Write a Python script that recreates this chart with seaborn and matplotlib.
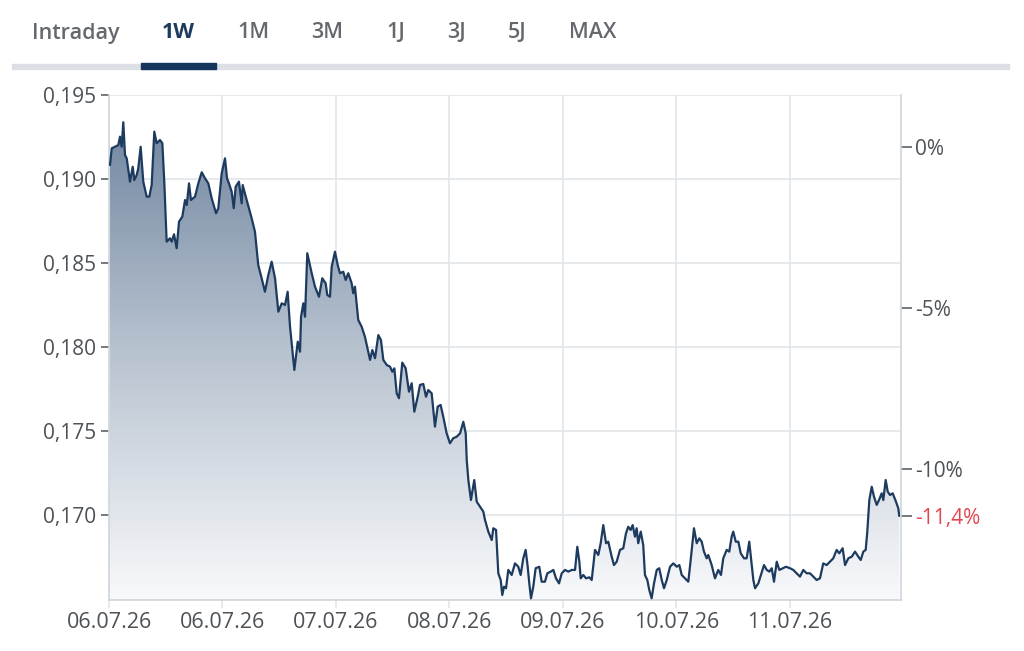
import numpy as np
import matplotlib
matplotlib.use("Agg")
import matplotlib.pyplot as plt
import seaborn as sns
from matplotlib.colors import LinearSegmentedColormap
from matplotlib.patches import Rectangle
from matplotlib.ticker import FuncFormatter, FixedLocator

# --- Daten (Zeit in Handelstagen ab Start, Kurs in EUR) ---
times = [0.009, 0.024, 0.053, 0.082, 0.097, 0.112, 0.126, 0.141, 0.156, 0.185,
         0.209, 0.223, 0.244, 0.258, 0.279, 0.302, 0.332, 0.355, 0.376, 0.399,
         0.420, 0.449, 0.470, 0.487, 0.508, 0.537, 0.552, 0.573, 0.596, 0.617,
         0.646, 0.670, 0.685, 0.705, 0.722, 0.758, 0.787, 0.817, 0.846, 0.875,
         0.905, 0.943, 0.963, 0.993, 1.022, 1.040, 1.057, 1.081, 1.099, 1.116,
         1.145, 1.169, 1.178, 1.213, 1.257, 1.286, 1.315, 1.345, 1.374, 1.404,
         1.433, 1.463, 1.492, 1.522, 1.551, 1.574, 1.595, 1.633, 1.663, 1.683,
         1.692, 1.712, 1.727, 1.747, 1.786, 1.815, 1.850, 1.879, 1.909, 1.923,
         1.947, 1.962, 1.991, 2.015, 2.035, 2.064, 2.085, 2.108, 2.138, 2.152,
         2.167, 2.196, 2.226, 2.255, 2.300, 2.320, 2.344, 2.373, 2.396, 2.417,
         2.447, 2.476, 2.496, 2.514, 2.535, 2.555, 2.584, 2.614, 2.643, 2.667,
         2.690, 2.720, 2.740, 2.769, 2.793, 2.813, 2.843, 2.872, 2.896, 2.922,
         2.945, 2.975, 3.004, 3.033, 3.063, 3.093, 3.122, 3.143, 3.152, 3.166,
         3.189, 3.218, 3.240, 3.269, 3.298,
         3.313, 3.342, 3.372, 3.386, 3.410, 3.430, 3.451, 3.465, 3.480, 3.498,
         3.518, 3.548, 3.577, 3.606, 3.627, 3.650, 3.671, 3.689, 3.703, 3.718,
         3.738, 3.759, 3.791, 3.812, 3.841, 3.862, 3.892, 3.915, 3.938, 3.965,
         3.989, 4.018, 4.047, 4.077, 4.106, 4.126, 4.144, 4.156, 4.179, 4.203,
         4.232, 4.253, 4.282, 4.311, 4.332, 4.355, 4.379, 4.399, 4.429, 4.449,
         4.473, 4.502, 4.531, 4.555, 4.575, 4.596, 4.614, 4.634, 4.649, 4.663,
         4.685, 4.707, 4.722, 4.743, 4.760, 4.781, 4.802, 4.826, 4.848, 4.870,
         4.890, 4.914, 4.943, 4.972, 5.002, 5.025, 5.046, 5.075, 5.104, 5.125,
         5.154, 5.178, 5.201, 5.222, 5.242, 5.266, 5.280, 5.310, 5.339, 5.368,
         5.392, 5.412, 5.442, 5.465, 5.486, 5.500, 5.522, 5.545, 5.566, 5.595,
         5.618, 5.641, 5.663, 5.677, 5.692, 5.721, 5.744, 5.771, 5.795, 5.818,
         5.839, 5.859, 5.883, 5.906, 5.936, 5.965, 6.000, 6.029, 6.059, 6.088,
         6.117, 6.147, 6.176, 6.205, 6.235, 6.264, 6.293, 6.323, 6.352, 6.381,
         6.411, 6.434, 6.464, 6.485, 6.514, 6.544, 6.573, 6.602, 6.623, 6.646,
         6.667, 6.681, 6.699, 6.720, 6.740, 6.764, 6.784, 6.808, 6.822, 6.843,
         6.861, 6.881, 6.905, 6.934, 6.954, 6.963]

prices = [0.19083, 0.19183, 0.19192, 0.19202, 0.19252, 0.19192, 0.19338, 0.19143, 0.19123, 0.18984,
          0.19073, 0.18994, 0.19024, 0.19064, 0.19192, 0.18984, 0.18895, 0.18895, 0.18964, 0.19282,
          0.19213, 0.19232, 0.19213, 0.18984, 0.18627, 0.18647, 0.18627, 0.18671, 0.18588, 0.18746,
          0.18776, 0.18875, 0.18845, 0.18974, 0.18875, 0.18895, 0.18974, 0.19040, 0.19004, 0.18974,
          0.18885, 0.18796, 0.18826, 0.19034, 0.19123, 0.19004, 0.18974, 0.18924, 0.18826, 0.18954,
          0.18984, 0.18855, 0.18964, 0.18875, 0.18766, 0.18686, 0.18488, 0.18409, 0.18329, 0.18429,
          0.18508, 0.18409, 0.18210, 0.18260, 0.18250, 0.18329, 0.18121, 0.17863, 0.18032, 0.17972,
          0.18180, 0.18260, 0.18180, 0.18558, 0.18439, 0.18359, 0.18299, 0.18409, 0.18379, 0.18310,
          0.18299, 0.18478, 0.18567, 0.18488, 0.18439, 0.18448, 0.18399, 0.18439, 0.18379, 0.18320,
          0.18359, 0.18161, 0.18121, 0.18061, 0.17923, 0.17982, 0.17933, 0.18071, 0.18042, 0.17923,
          0.17893, 0.17883, 0.17853, 0.17873, 0.17724, 0.17695, 0.17907, 0.17873, 0.17734, 0.17784,
          0.17615, 0.17704, 0.17774, 0.17780, 0.17704, 0.17744, 0.17724, 0.17526, 0.17645, 0.17655,
          0.17585, 0.17486, 0.17427, 0.17457, 0.17466, 0.17486, 0.17555, 0.17486, 0.17327, 0.17208,
          0.17089, 0.17208, 0.17079, 0.17049, 0.17020,
          0.16970, 0.16901, 0.16851, 0.16921, 0.16911, 0.16653, 0.16613, 0.16524, 0.16573, 0.16564,
          0.16673, 0.16643, 0.16712, 0.16692, 0.16643, 0.16742, 0.16792, 0.16692, 0.16593, 0.16504,
          0.16573, 0.16683, 0.16692, 0.16603, 0.16603, 0.16653, 0.16663, 0.16673, 0.16623, 0.16593,
          0.16653, 0.16673, 0.16663, 0.16673, 0.16673, 0.16811, 0.16722, 0.16623, 0.16643, 0.16623,
          0.16629, 0.16613, 0.16792, 0.16762, 0.16832, 0.16940, 0.16832, 0.16841, 0.16752, 0.16702,
          0.16722, 0.16792, 0.16802, 0.16891, 0.16930, 0.16911, 0.16940, 0.16871, 0.16921, 0.16832,
          0.16901, 0.16821, 0.16643, 0.16613, 0.16554, 0.16504, 0.16593, 0.16673, 0.16683, 0.16613,
          0.16564, 0.16613, 0.16692, 0.16712, 0.16692, 0.16702, 0.16643, 0.16623, 0.16603, 0.16732,
          0.16921, 0.16832, 0.16861, 0.16841, 0.16782, 0.16742, 0.16762, 0.16702, 0.16623, 0.16673,
          0.16643, 0.16742, 0.16792, 0.16782, 0.16871, 0.16901, 0.16841, 0.16841, 0.16772, 0.16742,
          0.16742, 0.16841, 0.16702, 0.16613, 0.16564, 0.16593, 0.16643, 0.16702, 0.16673, 0.16663,
          0.16683, 0.16603, 0.16722, 0.16673, 0.16683, 0.16692, 0.16683, 0.16673, 0.16653, 0.16633,
          0.16673, 0.16653, 0.16653, 0.16633, 0.16613, 0.16623, 0.16712, 0.16702, 0.16722, 0.16742,
          0.16792, 0.16772, 0.16802, 0.16702, 0.16742, 0.16752, 0.16782, 0.16752, 0.16732, 0.16782,
          0.16792, 0.16901, 0.17089, 0.17168, 0.17109, 0.17060, 0.17089, 0.17129, 0.17089, 0.17208,
          0.17139, 0.17119, 0.17129, 0.17079, 0.17040, 0.16994]

tick_pos = [0, 1, 2, 3, 4, 5, 6]
tick_labels = ["06.07.26", "06.07.26", "07.07.26", "08.07.26", "09.07.26", "10.07.26", "11.07.26"]
y_ticks = [0.170, 0.175, 0.180, 0.185, 0.190, 0.195]
pct_ticks = [0.0, -0.05, -0.10]
ref_price = 0.1919
tabs = ["Intraday", "1W", "1M", "3M", "1J", "3J", "5J", "MAX"]
active_tab = "1W"

# --- Stil ---
sns.set_theme(style="whitegrid")
plt.rcParams['font.family'] = ['Open Sans', 'DejaVu Sans']

navy = "#1d3a5f"
grid_col = "#e3e6ea"
spine_col = "#cfd5dc"
text_col = "#4d5257"
red = "#e2474f"

xmin, xmax = 0, 6.978
ymin, ymax = 0.16494, 0.195

fig = plt.figure(figsize=(10.24, 6.51), dpi=100)
ax = fig.add_axes([109 / 1024, 1 - 600 / 651, 792 / 1024, 505 / 651])
ax.set_facecolor("white")

sns.lineplot(x=times, y=prices, ax=ax, color=navy, linewidth=1.6,
             estimator=None, sort=False, zorder=3)

# Verlaufsfüllung unter der Linie
poly = ax.fill_between(times, prices, ymin, color="none", linewidth=0)
cmap = LinearSegmentedColormap.from_list("fill", ["#f8f9fb", "#b7c2cf", "#6a809c"])
grad = np.linspace(0, 1, 256).reshape(-1, 1)
img = ax.imshow(grad, extent=[xmin, xmax, ymin, ymax], origin="lower",
                aspect="auto", cmap=cmap, zorder=2)
img.set_clip_path(poly.get_paths()[0], transform=ax.transData)

ax.set_xlim(xmin, xmax)
ax.set_ylim(ymin, ymax)
ax.set_xlabel("")
ax.set_ylabel("")

ax.xaxis.set_major_locator(FixedLocator(tick_pos))
ax.set_xticklabels(tick_labels)
ax.yaxis.set_major_locator(FixedLocator(y_ticks))
ax.yaxis.set_major_formatter(FuncFormatter(lambda v, _: f"{v:.3f}".replace(".", ",")))

ax.grid(True, color=grid_col, linewidth=1.2)
ax.set_axisbelow(True)
for side in ["top", "right"]:
    ax.spines[side].set_visible(False)
for side in ["left", "bottom"]:
    ax.spines[side].set_color(spine_col)
    ax.spines[side].set_linewidth(1.2)

ax.tick_params(axis="y", left=True, length=6, width=1.3, color="#6a6f75",
               labelsize=15, labelcolor=text_col, pad=3)
ax.tick_params(axis="x", bottom=True, length=6, width=1.2, color=grid_col,
               labelsize=15.5, labelcolor=text_col, pad=3)

# rechte Achse: Veränderung in %
ax2 = ax.twinx()
ax2.set_ylim(ymin, ymax)
ax2.grid(False)
last_pct = prices[-1] / ref_price - 1
pct_all = pct_ticks + [last_pct]
ax2.yaxis.set_major_locator(FixedLocator([ref_price * (1 + p) for p in pct_all]))
labels = [f"{p * 100:.0f}%" for p in pct_ticks] + [f"{last_pct * 100:.1f}%".replace(".", ",")]
ax2.set_yticklabels(labels)
ax2.tick_params(axis="y", right=True, length=8, width=1.3, color="#6a6f75",
                labelsize=15, labelcolor=text_col, pad=2)
ax2.get_yticklabels()[-1].set_color(red)
for side in ["top", "left", "bottom"]:
    ax2.spines[side].set_visible(False)
ax2.spines["right"].set_color(spine_col)
ax2.spines["right"].set_linewidth(1.2)

# Zeitraum-Reiter oben
tab_x = [76, 178, 253, 327, 396, 456, 517, 593]
for name, xp in zip(tabs, tab_x):
    active = name == active_tab
    fig.text(xp / 1024, 1 - 33 / 651, name, ha="center", va="center",
             fontsize=15.5, fontweight="bold" if active else "semibold",
             color=navy if active else "#65696e")
fig.patches.append(Rectangle((12 / 1024, 1 - 69 / 651), 997 / 1024, 5 / 651,
                             transform=fig.transFigure, color="#dcdfe3", zorder=1))
fig.patches.append(Rectangle((141 / 1024, 1 - 69 / 651), 75 / 1024, 6 / 651,
                             transform=fig.transFigure, color="#16355c", zorder=2))

fig.savefig("out.png", dpi=100)
